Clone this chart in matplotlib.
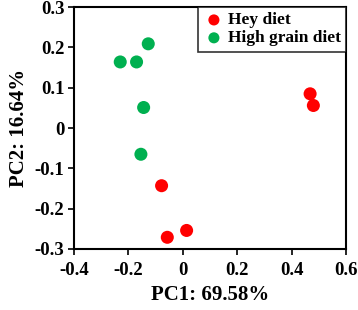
import matplotlib
matplotlib.use("Agg")
import matplotlib.pyplot as plt

hey_x = [-0.078, -0.057, 0.014, 0.468, 0.480]
hey_y = [-0.143, -0.271, -0.254, 0.085, 0.056]
grain_x = [-0.230, -0.170, -0.127, -0.144, -0.154]
grain_y = [0.164, 0.164, 0.209, 0.051, -0.065]
xticks = [-0.4, -0.2, 0, 0.2, 0.4, 0.6]
xticklabels = ["-0.4", "-0.2", "0", "0.2", "0.4", "0.6"]
yticks = [-0.3, -0.2, -0.1, 0, 0.1, 0.2, 0.3]
yticklabels = ["-0.3", "-0.2", "-0.1", "0", "0.1", "0.2", "0.3"]

plt.rcParams['font.family'] = ['Liberation Serif', 'DejaVu Serif']
plt.rcParams['font.weight'] = 'bold'

fig = plt.figure(figsize=(3.58, 3.10), dpi=100)
ax = fig.add_axes([0.2067, 0.1968, 0.7598, 0.7802])
ax.scatter(hey_x, hey_y, s=88, color='#FF0000', edgecolors='none', label='Hey diet', zorder=3)
ax.scatter(grain_x, grain_y, s=88, color='#00B050', edgecolors='none', label='High grain diet', zorder=3)
ax.set_xlim(-0.4, 0.6)
ax.set_ylim(-0.3, 0.3)
ax.set_xticks(xticks)
ax.set_xticklabels(xticklabels)
ax.set_yticks(yticks)
ax.set_yticklabels(yticklabels)
for s in ax.spines.values():
    s.set_linewidth(1.5)
    s.set_color('black')
ax.tick_params(direction='out', length=4.5, width=1.2, labelsize=13.5)
ax.tick_params(axis='x', pad=5)
ax.tick_params(axis='y', pad=2.5)
for lab in ax.get_xticklabels() + ax.get_yticklabels():
    lab.set_fontweight('bold')
ax.set_xlabel('PC1: 69.58%', fontsize=15, fontweight='bold', labelpad=4)
ax.set_ylabel('PC2: 16.64%', fontsize=15, fontweight='bold', labelpad=4)
leg = ax.legend(loc='upper right', bbox_to_anchor=(1.0, 1.0), frameon=True, fancybox=False,
                borderaxespad=0, handletextpad=0.2, borderpad=0.3, labelspacing=0.1,
                handlelength=1.2, prop={'size': 12.5, 'weight': 'bold'}, markerscale=0.85)
leg.get_frame().set_edgecolor('black')
leg.get_frame().set_linewidth(1.2)
fig.savefig('out.png', dpi=100)
